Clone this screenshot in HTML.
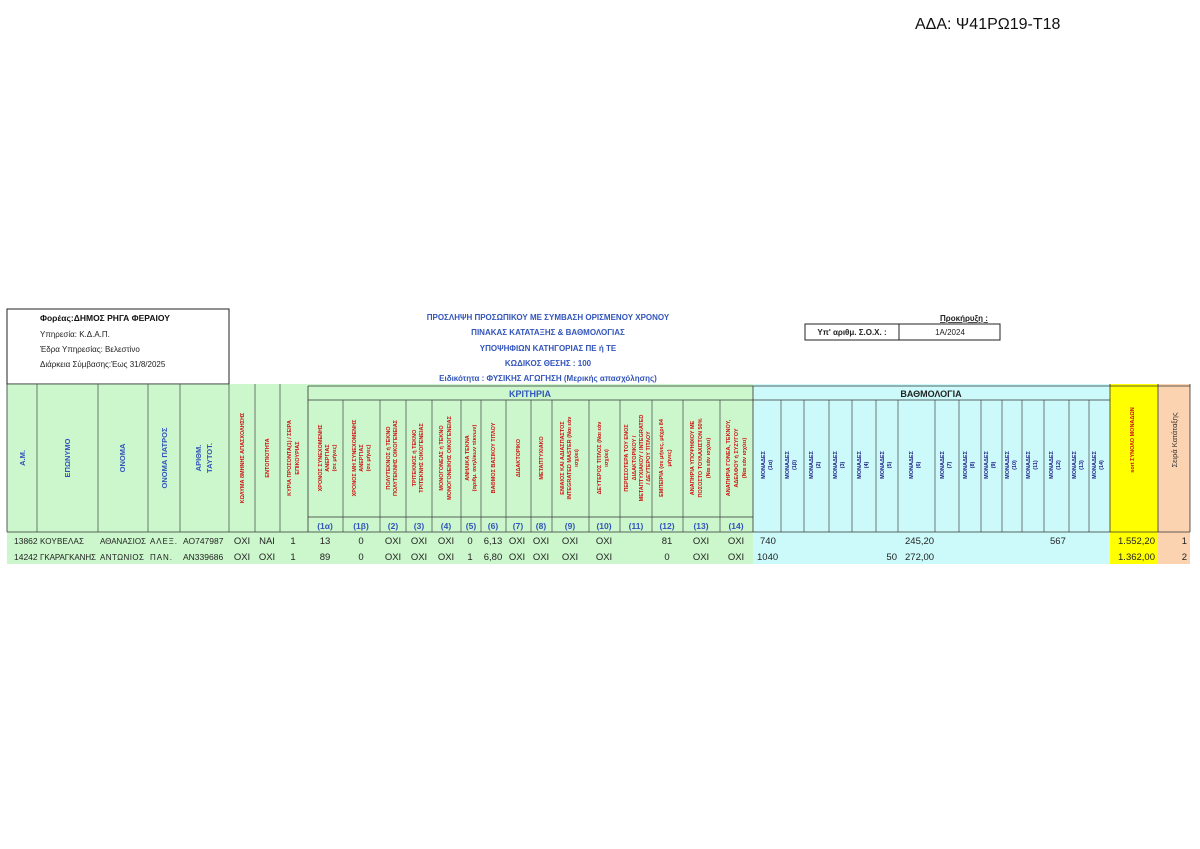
<!DOCTYPE html>
<html><head><meta charset="utf-8"><style>
body{margin:0;background:#fff}
svg{display:block}
text{font-family:"Liberation Sans",sans-serif}
.b{fill:#3355bb;font-weight:bold}
.r{fill:#cc1111;font-weight:bold;font-size:5.5px}
.d{font-size:9.5px;fill:#222}
.m{fill:#222288;font-weight:bold;font-size:5.5px}
</style></head><body>
<svg width="1200" height="849" viewBox="0 0 1200 849" xmlns="http://www.w3.org/2000/svg">
<rect width="1200" height="849" fill="#fff"/>
<text x="915" y="29" font-size="16" fill="#111">ΑΔΑ: Ψ41ΡΩ19-Τ18</text>

<rect x="7" y="309" width="222" height="75" fill="#fff" stroke="#222" stroke-width="1"/>
<text x="40" y="321" font-size="8.5" font-weight="bold" fill="#111">Φορέας:ΔΗΜΟΣ ΡΗΓΑ ΦΕΡΑΙΟΥ</text>
<text x="40" y="337" font-size="8" fill="#222">Υπηρεσία: Κ.Δ.Α.Π.</text>
<text x="40" y="352" font-size="8" fill="#222">Έδρα Υπηρεσίας: Βελεστίνο</text>
<text x="40" y="367" font-size="8" fill="#222">Διάρκεια Σύμβασης:Έως 31/8/2025</text>

<g class="b" font-size="8" text-anchor="middle">
<text x="548" y="320">ΠΡΟΣΛΗΨΗ ΠΡΟΣΩΠΙΚΟΥ ΜΕ ΣΥΜΒΑΣΗ ΟΡΙΣΜΕΝΟΥ ΧΡΟΝΟΥ</text>
<text x="548" y="335">ΠΙΝΑΚΑΣ ΚΑΤΑΤΑΞΗΣ &amp; ΒΑΘΜΟΛΟΓΙΑΣ</text>
<text x="548" y="351">ΥΠΟΨΗΦΙΩΝ ΚΑΤΗΓΟΡΙΑΣ ΠΕ ή ΤΕ</text>
<text x="548" y="366">ΚΩΔΙΚΟΣ ΘΕΣΗΣ : 100</text>
<text x="548" y="381">Ειδικότητα : ΦΥΣΙΚΗΣ ΑΓΩΓΗΣΗ (Μερικής απασχόλησης)</text>
</g>
<text x="940" y="321" font-size="8" font-weight="bold" fill="#222" text-decoration="underline">Προκήρυξη :</text>
<rect x="805" y="324" width="195" height="16" fill="#fff" stroke="#222"/>
<line x1="899" y1="324" x2="899" y2="340" stroke="#222"/>
<text x="852" y="335" font-size="8" font-weight="bold" fill="#222" text-anchor="middle">Υπ' αριθμ. Σ.Ο.Χ. :</text>
<text x="950" y="335" font-size="8" fill="#222" text-anchor="middle">1Α/2024</text>

<rect x="7" y="384" width="746" height="180" fill="#ccf7cc"/>
<rect x="753" y="384" width="357" height="180" fill="#ccfafa"/>
<rect x="1110" y="384" width="48" height="180" fill="#ffff00"/>
<rect x="1158" y="384" width="32" height="180" fill="#fbd3b0"/>

<g stroke="#333" stroke-width="0.8">
<line x1="7" y1="384" x2="7" y2="532"/>
<line x1="7" y1="384" x2="229" y2="384"/>
<line x1="308" y1="386" x2="1190" y2="386"/>
<line x1="308" y1="400" x2="1110" y2="400"/>
<line x1="308" y1="517" x2="753" y2="517"/>
<line x1="7" y1="532" x2="1190" y2="532"/>
<line x1="1110" y1="384" x2="1110" y2="532"/>
<line x1="1158" y1="384" x2="1158" y2="532"/>
<line x1="1190" y1="384" x2="1190" y2="532"/>
<line x1="753" y1="386" x2="753" y2="532"/>
<line x1="308" y1="386" x2="308" y2="532"/>
</g>
<g stroke="#444" stroke-width="0.7">
<line x1="37" y1="384" x2="37" y2="532"/><line x1="98" y1="384" x2="98" y2="532"/><line x1="148" y1="384" x2="148" y2="532"/><line x1="180" y1="384" x2="180" y2="532"/><line x1="229" y1="384" x2="229" y2="532"/><line x1="255" y1="384" x2="255" y2="532"/><line x1="280" y1="384" x2="280" y2="532"/>
<line x1="343" y1="400" x2="343" y2="532"/><line x1="380" y1="400" x2="380" y2="532"/><line x1="406" y1="400" x2="406" y2="532"/><line x1="432" y1="400" x2="432" y2="532"/><line x1="461" y1="400" x2="461" y2="532"/><line x1="481" y1="400" x2="481" y2="532"/><line x1="506" y1="400" x2="506" y2="532"/><line x1="531" y1="400" x2="531" y2="532"/><line x1="552" y1="400" x2="552" y2="532"/><line x1="589" y1="400" x2="589" y2="532"/><line x1="620" y1="400" x2="620" y2="532"/><line x1="652" y1="400" x2="652" y2="532"/><line x1="683" y1="400" x2="683" y2="532"/><line x1="720" y1="400" x2="720" y2="532"/>
<line x1="781" y1="400" x2="781" y2="532"/><line x1="804" y1="400" x2="804" y2="532"/><line x1="829" y1="400" x2="829" y2="532"/><line x1="852" y1="400" x2="852" y2="532"/><line x1="876" y1="400" x2="876" y2="532"/><line x1="898" y1="400" x2="898" y2="532"/><line x1="935" y1="400" x2="935" y2="532"/><line x1="959" y1="400" x2="959" y2="532"/><line x1="981" y1="400" x2="981" y2="532"/><line x1="1002" y1="400" x2="1002" y2="532"/><line x1="1022" y1="400" x2="1022" y2="532"/><line x1="1044" y1="400" x2="1044" y2="532"/><line x1="1069" y1="400" x2="1069" y2="532"/><line x1="1089" y1="400" x2="1089" y2="532"/>
</g>

<text x="530" y="397" class="b" font-size="9" text-anchor="middle">ΚΡΙΤΗΡΙΑ</text>
<text x="931" y="397" font-size="9" font-weight="bold" fill="#222" text-anchor="middle">ΒΑΘΜΟΛΟΓΙΑ</text>

<g class="b" font-size="7.5" text-anchor="middle">
<text transform="translate(25,458) rotate(-90)">Α.Μ.</text>
<text transform="translate(70,458) rotate(-90)">ΕΠΩΝΥΜΟ</text>
<text transform="translate(125,458) rotate(-90)">ΟΝΟΜΑ</text>
<text transform="translate(167,458) rotate(-90)">ΟΝΟΜΑ ΠΑΤΡΟΣ</text>
<text transform="translate(201,458) rotate(-90)">ΑΡΙΘΜ.</text>
<text transform="translate(212,458) rotate(-90)">ΤΑΥΤΟΤ.</text>
</g>
<g class="r" text-anchor="middle">
<text transform="translate(244,458) rotate(-90)">ΚΩΛΥΜΑ 8ΜΗΝΗΣ ΑΠΑΣΧΟΛΗΣΗΣ</text>
<text transform="translate(269,458) rotate(-90)">ΕΝΤΟΠΙΟΤΗΤΑ</text>
<text transform="translate(291,458) rotate(-90)">ΚΥΡΙΑ ΠΡΟΣΟΝΤΑ(1) / ΣΕΙΡΑ</text>
<text transform="translate(299,458) rotate(-90)">ΕΠΙΚΟΥΡΙΑΣ</text>
<text transform="translate(322,458) rotate(-90)">ΧΡΟΝΟΣ ΣΥΝΕΧΟΜΕΝΗΣ</text>
<text transform="translate(329,458) rotate(-90)">ΑΝΕΡΓΙΑΣ</text>
<text transform="translate(336,458) rotate(-90)">(σε μήνες)</text>
<text transform="translate(356,458) rotate(-90)">ΧΡΟΝΟΣ ΜΗ ΣΥΝΕΧΟΜΕΝΗΣ</text>
<text transform="translate(363,458) rotate(-90)">ΑΝΕΡΓΙΑΣ</text>
<text transform="translate(370,458) rotate(-90)">(σε μήνες)</text>
<text transform="translate(390,458) rotate(-90)">ΠΟΛΥΤΕΚΝΟΣ ή ΤΕΚΝΟ</text>
<text transform="translate(397,458) rotate(-90)">ΠΟΛΥΤΕΚΝΗΣ ΟΙΚΟΓΕΝΕΙΑΣ</text>
<text transform="translate(416,458) rotate(-90)">ΤΡΙΤΕΚΝΟΣ ή ΤΕΚΝΟ</text>
<text transform="translate(423,458) rotate(-90)">ΤΡΙΤΕΚΝΗΣ ΟΙΚΟΓΕΝΕΙΑΣ</text>
<text transform="translate(443,458) rotate(-90)">ΜΟΝΟΓΟΝΕΑΣ ή ΤΕΚΝΟ</text>
<text transform="translate(451,458) rotate(-90)">ΜΟΝΟΓΟΝΕΙΚΗΣ ΟΙΚΟΓΕΝΕΙΑΣ</text>
<text transform="translate(469,458) rotate(-90)">ΑΝΗΛΙΚΑ ΤΕΚΝΑ</text>
<text transform="translate(476,458) rotate(-90)">(αριθμ. ανηλίκων τέκνων)</text>
<text transform="translate(495,458) rotate(-90)">ΒΑΘΜΟΣ ΒΑΣΙΚΟΥ ΤΙΤΛΟΥ</text>
<text transform="translate(520,458) rotate(-90)">ΔΙΔΑΚΤΟΡΙΚΟ</text>
<text transform="translate(543,458) rotate(-90)">ΜΕΤΑΠΤΥΧΙΑΚΟ</text>
<text transform="translate(564,458) rotate(-90)">ΕΝΙΑΙΟΣ ΚΑΙ ΑΔΙΑΣΠΑΣΤΟΣ</text>
<text transform="translate(571,458) rotate(-90)">INTEGRATED MASTER (Ναι εάν</text>
<text transform="translate(578,458) rotate(-90)">ισχύει)</text>
<text transform="translate(601,458) rotate(-90)">ΔΕΥΤΕΡΟΣ ΤΙΤΛΟΣ (Ναι εάν</text>
<text transform="translate(608,458) rotate(-90)">ισχύει)</text>
<text transform="translate(628,458) rotate(-90)">ΠΕΡΙΣΣΟΤΕΡΑ ΤΟΥ ΕΝΟΣ</text>
<text transform="translate(636,458) rotate(-90)">ΔΙΔΑΚΤΟΡΙΚΟΥ /</text>
<text transform="translate(643,458) rotate(-90)">ΜΕΤΑΠΤΥΧΙΑΚΟΥ / INTEGRATED</text>
<text transform="translate(650,458) rotate(-90)">/ ΔΕΥΤΕΡΟΥ ΤΙΤΛΟΥ</text>
<text transform="translate(663,458) rotate(-90)">ΕΜΠΕΙΡΙΑ (σε μήνες, μέχρι 84</text>
<text transform="translate(671,458) rotate(-90)">μήνες)</text>
<text transform="translate(694,458) rotate(-90)">ΑΝΑΠΗΡΙΑ ΥΠΟΨΗΦΙΟΥ ΜΕ</text>
<text transform="translate(702,458) rotate(-90)">ΠΟΣΟΣΤΟ ΤΟΥΛΑΧΙΣΤΟΝ 50%</text>
<text transform="translate(710,458) rotate(-90)">(Ναι εάν ισχύει)</text>
<text transform="translate(730,458) rotate(-90)">ΑΝΑΠΗΡΙΑ ΓΟΝΕΑ, ΤΕΚΝΟΥ,</text>
<text transform="translate(738,458) rotate(-90)">ΑΔΕΛΦΟΥ ή ΣΥΖΥΓΟΥ</text>
<text transform="translate(746,458) rotate(-90)">(Ναι εάν ισχύει)</text>
<text transform="translate(1134,440) rotate(-90)">sort ΣΥΝΟΛΟ ΜΟΝΑΔΩΝ</text>
</g>
<text transform="translate(1177,440) rotate(-90)" font-size="7.5" fill="#333" text-anchor="middle">Σειρά Κατάταξης</text>

<g class="b" font-size="8.5" text-anchor="middle">
<text x="325" y="529">(1α)</text><text x="361" y="529">(1β)</text><text x="393" y="529">(2)</text><text x="419" y="529">(3)</text><text x="446" y="529">(4)</text><text x="471" y="529">(5)</text><text x="493" y="529">(6)</text><text x="518" y="529">(7)</text><text x="541" y="529">(8)</text><text x="570" y="529">(9)</text><text x="604" y="529">(10)</text><text x="636" y="529">(11)</text><text x="667" y="529">(12)</text><text x="701" y="529">(13)</text><text x="736" y="529">(14)</text>
</g>

<g class="m" text-anchor="middle">
<text transform="translate(765,465) rotate(-90)">ΜΟΝΑΔΕΣ</text><text transform="translate(772,465) rotate(-90)">(1α)</text>
<text transform="translate(789,465) rotate(-90)">ΜΟΝΑΔΕΣ</text><text transform="translate(796,465) rotate(-90)">(1β)</text>
<text transform="translate(813,465) rotate(-90)">ΜΟΝΑΔΕΣ</text><text transform="translate(820,465) rotate(-90)">(2)</text>
<text transform="translate(837,465) rotate(-90)">ΜΟΝΑΔΕΣ</text><text transform="translate(844,465) rotate(-90)">(3)</text>
<text transform="translate(861,465) rotate(-90)">ΜΟΝΑΔΕΣ</text><text transform="translate(868,465) rotate(-90)">(4)</text>
<text transform="translate(884,465) rotate(-90)">ΜΟΝΑΔΕΣ</text><text transform="translate(891,465) rotate(-90)">(5)</text>
<text transform="translate(913,465) rotate(-90)">ΜΟΝΑΔΕΣ</text><text transform="translate(920,465) rotate(-90)">(6)</text>
<text transform="translate(944,465) rotate(-90)">ΜΟΝΑΔΕΣ</text><text transform="translate(951,465) rotate(-90)">(7)</text>
<text transform="translate(967,465) rotate(-90)">ΜΟΝΑΔΕΣ</text><text transform="translate(974,465) rotate(-90)">(8)</text>
<text transform="translate(988,465) rotate(-90)">ΜΟΝΑΔΕΣ</text><text transform="translate(995,465) rotate(-90)">(9)</text>
<text transform="translate(1009,465) rotate(-90)">ΜΟΝΑΔΕΣ</text><text transform="translate(1016,465) rotate(-90)">(10)</text>
<text transform="translate(1030,465) rotate(-90)">ΜΟΝΑΔΕΣ</text><text transform="translate(1037,465) rotate(-90)">(11)</text>
<text transform="translate(1053,465) rotate(-90)">ΜΟΝΑΔΕΣ</text><text transform="translate(1060,465) rotate(-90)">(12)</text>
<text transform="translate(1076,465) rotate(-90)">ΜΟΝΑΔΕΣ</text><text transform="translate(1083,465) rotate(-90)">(13)</text>
<text transform="translate(1096,465) rotate(-90)">ΜΟΝΑΔΕΣ</text><text transform="translate(1103,465) rotate(-90)">(14)</text>
</g>

<g class="d">
<text x="14" y="544" font-size="8.5">13862</text><text x="40" y="544" font-size="8" textLength="44">ΚΟΥΒΕΛΑΣ</text><text x="100" y="544" font-size="8" textLength="46">ΑΘΑΝΑΣΙΟΣ</text><text x="150" y="544" font-size="8" textLength="27">ΑΛΕΞ.</text><text x="183" y="544" font-size="8.5">ΑΟ747987</text>
<text x="14" y="560" font-size="8.5">14242</text><text x="40" y="560" font-size="8" textLength="56">ΓΚΑΡΑΓΚΑΝΗΣ</text><text x="100" y="560" font-size="8" textLength="44">ΑΝΤΩΝΙΟΣ</text><text x="150" y="560" font-size="8" textLength="22">ΠΑΝ.</text><text x="183" y="560" font-size="8.5">ΑΝ339686</text>
<g text-anchor="middle">
<text x="242" y="544">ΟΧΙ</text><text x="267" y="544">ΝΑΙ</text><text x="293" y="544">1</text><text x="325" y="544">13</text><text x="361" y="544">0</text><text x="393" y="544">ΟΧΙ</text><text x="419" y="544">ΟΧΙ</text><text x="446" y="544">ΟΧΙ</text><text x="470" y="544">0</text><text x="493" y="544">6,13</text><text x="517" y="544">ΟΧΙ</text><text x="541" y="544">ΟΧΙ</text><text x="570" y="544">ΟΧΙ</text><text x="604" y="544">ΟΧΙ</text><text x="667" y="544">81</text><text x="701" y="544">ΟΧΙ</text><text x="736" y="544">ΟΧΙ</text>
<text x="242" y="560">ΟΧΙ</text><text x="267" y="560">ΟΧΙ</text><text x="293" y="560">1</text><text x="325" y="560">89</text><text x="361" y="560">0</text><text x="393" y="560">ΟΧΙ</text><text x="419" y="560">ΟΧΙ</text><text x="446" y="560">ΟΧΙ</text><text x="470" y="560">1</text><text x="493" y="560">6,80</text><text x="517" y="560">ΟΧΙ</text><text x="541" y="560">ΟΧΙ</text><text x="570" y="560">ΟΧΙ</text><text x="604" y="560">ΟΧΙ</text><text x="667" y="560">0</text><text x="701" y="560">ΟΧΙ</text><text x="736" y="560">ΟΧΙ</text>
</g>
<text x="760" y="544">740</text><text x="905" y="544">245,20</text><text x="1050" y="544">567</text>
<text x="757" y="560">1040</text><text x="897" y="560" text-anchor="end">50</text><text x="905" y="560">272,00</text>
<text x="1155" y="544" text-anchor="end">1.552,20</text><text x="1187" y="544" text-anchor="end">1</text>
<text x="1155" y="560" text-anchor="end">1.362,00</text><text x="1187" y="560" text-anchor="end">2</text>
</g>
</svg>
</body></html>
